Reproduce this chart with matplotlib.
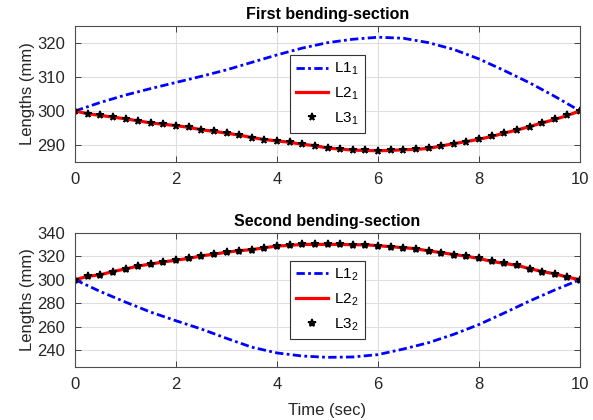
import matplotlib
matplotlib.use('Agg')
import matplotlib.pyplot as plt
import numpy as np

plt.rcParams['font.family'] = ['Liberation Sans', 'DejaVu Sans']
plt.rcParams['mathtext.fontset'] = 'custom'
plt.rcParams['mathtext.rm'] = 'Liberation Sans'

# time grids
t_fine = np.arange(0, 10.01, 0.25)   # marker spacing
t_coarse = np.arange(0, 10.01, 0.5)

# first bending-section
L1_1 = [300.0, 302.5, 304.7, 306.6, 308.4, 310.2, 312.1, 314.3, 316.5, 318.5,
        320.1, 321.1, 321.7, 321.4, 320.1, 318.1, 315.3, 311.9, 308.3, 304.3, 300.0]
L2_1 = [300.0, 299.2, 298.7, 298.2, 297.7, 297.1, 296.5, 296.1, 295.7, 295.2,
        294.5, 294.0, 293.5, 292.9, 292.2, 291.6, 291.2, 290.8, 290.2, 289.8,
        289.1, 288.8, 288.5, 288.4, 288.3, 288.4, 288.6, 288.7, 289.0, 289.7,
        290.4, 291.0, 291.7, 292.5, 293.5, 294.4, 295.4, 296.5, 297.5, 298.7, 300.0]
L3_1 = L2_1

# second bending-section
L1_2 = [300.0, 290.0, 281.0, 272.5, 265.2, 258.2, 250.3, 242.8, 237.9, 235.3,
        234.2, 234.5, 236.5, 241.2, 246.6, 253.7, 262.0, 271.8, 281.9, 291.3, 300.0]
L2_2 = [300.0, 302.8, 304.2, 306.9, 309.1, 311.6, 313.3, 315.0, 316.6, 318.0,
        320.2, 321.6, 323.3, 324.6, 325.5, 327.1, 328.5, 329.1, 329.9, 329.9,
        329.9, 329.9, 329.6, 329.6, 328.8, 328.0, 327.1, 326.3, 324.4, 323.0,
        321.3, 319.9, 318.0, 315.5, 313.8, 312.2, 309.4, 306.9, 305.0, 302.2, 300.0]
L3_2 = L2_2

TICK_COLOR = '0.15'
DASHDOT = (3, 1.2, 1, 1.2)


def style_axes(ax, title, ylim, yticks):
    ax.set_xlim(0, 10)
    ax.set_ylim(*ylim)
    ax.set_xticks([0, 2, 4, 6, 8, 10])
    ax.set_yticks(yticks)
    ax.set_title(title, fontsize=11.5, fontweight='bold', pad=5)
    ax.set_ylabel('Lengths (mm)', fontsize=12, color=TICK_COLOR, labelpad=2)
    ax.grid(True, color='0.87', linewidth=0.8)
    ax.set_axisbelow(True)
    ax.tick_params(direction='in', top=True, right=True, length=4,
                   width=0.6, labelsize=12, colors=TICK_COLOR)
    ax.tick_params(axis='x', pad=7)
    ax.tick_params(axis='y', pad=7)
    for s in ax.spines.values():
        s.set_color('0.3')
        s.set_linewidth(0.8)


fig = plt.figure(figsize=(5.93, 4.20), dpi=100)
ax1 = fig.add_axes([0.1265, 0.6143, 0.8516, 0.3238])
ax2 = fig.add_axes([0.1265, 0.1262, 0.8516, 0.3202])

# top
ax1.plot(t_coarse, L1_1, '-.', color='b', lw=2, dashes=DASHDOT, label=r'$\mathregular{L1_1}$')
ax1.plot(t_fine, L2_1, '-', color='r', lw=2.3, label=r'$\mathregular{L2_1}$')
ax1.plot(t_fine, L3_1, '*', color='k', ms=5.5, mew=1.2, label=r'$\mathregular{L3_1}$')
style_axes(ax1, 'First bending-section', (285, 325), [290, 300, 310, 320])

# bottom
ax2.plot(t_coarse, L1_2, '-.', color='b', lw=2, dashes=DASHDOT, label=r'$\mathregular{L1_2}$')
ax2.plot(t_fine, L2_2, '-', color='r', lw=2.3, label=r'$\mathregular{L2_2}$')
ax2.plot(t_fine, L3_2, '*', color='k', ms=6, mew=1.2, label=r'$\mathregular{L3_2}$')
style_axes(ax2, 'Second bending-section', (226, 340), [240, 260, 280, 300, 320, 340])
ax2.set_xlabel('Time (sec)', fontsize=12, color=TICK_COLOR, labelpad=8)

for ax in (ax1, ax2):
    leg = ax.legend(loc='center', fontsize=11, fancybox=False, framealpha=1,
                    edgecolor='0.2', handlelength=2.1, borderpad=0.4,
                    labelspacing=0.55, handletextpad=0.4)
    leg.get_frame().set_linewidth(0.8)

fig.savefig('out.png', dpi=100)
